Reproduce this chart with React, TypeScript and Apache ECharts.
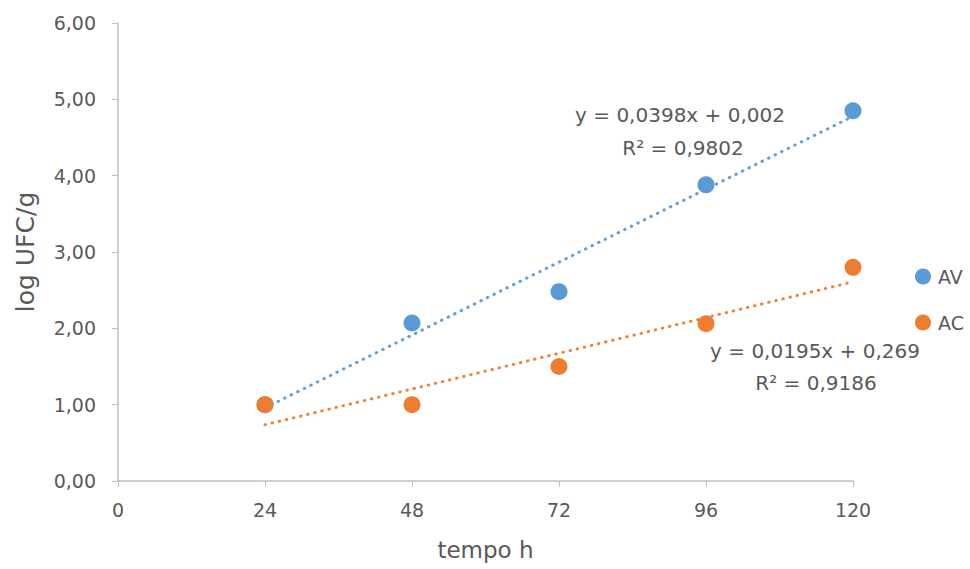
import React, { useEffect, useRef } from "react";
import * as echarts from "echarts";

const hours = [24, 48, 72, 96, 120];
const avValues = [1.0, 2.07, 2.48, 3.88, 4.85];
const acValues = [1.0, 1.0, 1.5, 2.06, 2.8];
const seriesNames = ["AV", "AC"];
const trendSlopes = [0.0398, 0.0195];
const trendIntercepts = [0.002, 0.269];
const trendLabels = [
  ["y = 0,0398x + 0,002", "R² = 0,9802"],
  ["y = 0,0195x + 0,269", "R² = 0,9186"],
];

const BLUE = "#5B9BD5";
const ORANGE = "#ED7D31";
const TEXT = "#595959";
const FONT = "'DejaVu Sans', sans-serif";

export default function App() {
  const ref = useRef<HTMLDivElement>(null);
  useEffect(() => {
    if (!ref.current) return;
    const chart = echarts.init(ref.current, undefined, { renderer: "svg" });
    const trend = (i: number) =>
      [hours[0], hours[hours.length - 1]].map((x) => [x, trendSlopes[i] * x + trendIntercepts[i]]);
    const dotted = (color: string) => ({
      color,
      width: 3,
      type: [0.5, 6.8],
      cap: "round",
      opacity: 0.95,
    });
    chart.setOption({
      animation: false,
      textStyle: { fontFamily: FONT },
      grid: { left: 118, right: 117, top: 23, bottom: 88 },
      legend: {
        data: seriesNames.map((n) => ({ name: n, icon: "circle" })),
        orient: "vertical",
        left: 910,
        top: 262,
        itemWidth: 16,
        itemHeight: 16,
        itemGap: 27,
        textStyle: { color: TEXT, fontSize: 19, fontFamily: FONT, padding: [0, 0, 0, 2] },
      },
      xAxis: {
        type: "value",
        min: 0,
        max: 120,
        interval: 24,
        name: "tempo h",
        nameLocation: "middle",
        nameGap: 57,
        nameTextStyle: { color: TEXT, fontSize: 23, fontFamily: FONT },
        axisLine: { show: true, lineStyle: { color: "#BFBFBF", width: 1.5 } },
        axisTick: { show: true, length: 6, lineStyle: { color: "#BFBFBF" } },
        axisLabel: { color: TEXT, fontSize: 19, margin: 19, fontFamily: FONT },
        splitLine: { show: false },
      },
      yAxis: {
        type: "value",
        min: 0,
        max: 6,
        interval: 1,
        name: "log UFC/g",
        nameLocation: "middle",
        nameGap: 80,
        nameTextStyle: { color: TEXT, fontSize: 25, fontFamily: FONT },
        axisLine: { show: true, lineStyle: { color: "#BFBFBF", width: 1.5 } },
        axisTick: { show: true, length: 6, lineStyle: { color: "#BFBFBF" } },
        axisLabel: {
          color: TEXT,
          fontSize: 19,
          margin: 22,
          fontFamily: FONT,
          formatter: (v: number) => v.toFixed(2).replace(".", ","),
        },
        splitLine: { show: false },
      },
      series: [
        {
          name: "AV trend",
          type: "line",
          data: trend(0),
          symbol: "none",
          lineStyle: dotted(BLUE),
          silent: true,
          z: 1,
        },
        {
          name: "AC trend",
          type: "line",
          data: trend(1),
          symbol: "none",
          lineStyle: dotted(ORANGE),
          silent: true,
          z: 1,
        },
        {
          name: seriesNames[0],
          type: "scatter",
          data: hours.map((h, i) => [h, avValues[i]]),
          symbolSize: 17,
          itemStyle: { color: BLUE, opacity: 1 },
          z: 3,
        },
        {
          name: seriesNames[1],
          type: "scatter",
          data: hours.map((h, i) => [h, acValues[i]]),
          symbolSize: 17,
          itemStyle: { color: ORANGE, opacity: 1 },
          z: 4,
        },
      ],
      graphic: [
        {
          type: "text",
          x: 680,
          y: 115,
          style: {
            text: trendLabels[0][0],
            fill: TEXT,
            font: `20px ${FONT}`,
            align: "center",
            verticalAlign: "middle",
          },
        },
        {
          type: "text",
          x: 683,
          y: 148,
          style: {
            text: trendLabels[0][1],
            fill: TEXT,
            font: `20px ${FONT}`,
            align: "center",
            verticalAlign: "middle",
          },
        },
        {
          type: "text",
          x: 815,
          y: 351,
          style: {
            text: trendLabels[1][0],
            fill: TEXT,
            font: `20px ${FONT}`,
            align: "center",
            verticalAlign: "middle",
          },
        },
        {
          type: "text",
          x: 816,
          y: 383,
          style: {
            text: trendLabels[1][1],
            fill: TEXT,
            font: `20px ${FONT}`,
            align: "center",
            verticalAlign: "middle",
          },
        },
      ],
    });
    return () => chart.dispose();
  }, []);
  return (
    <div
      ref={ref}
      style={{ position: "fixed", left: 0, top: 0, width: 970, height: 569, background: "#fff" }}
    />
  );
}
